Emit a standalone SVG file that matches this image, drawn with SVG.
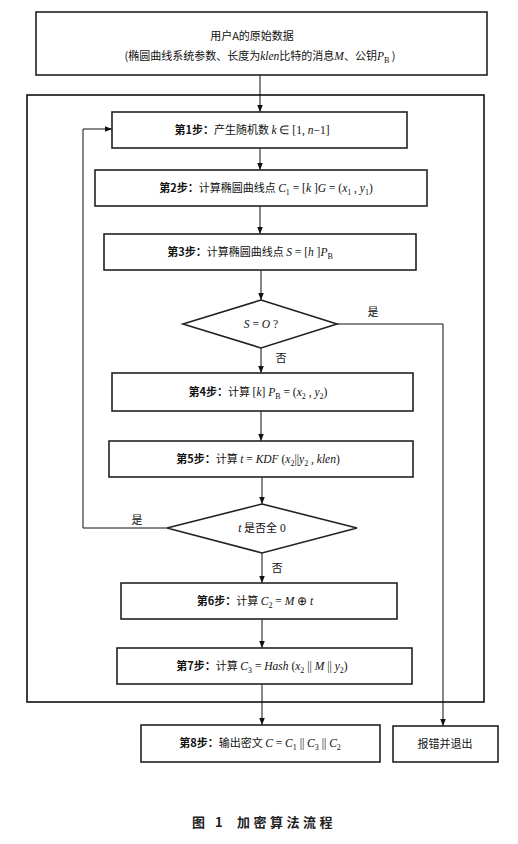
<svg xmlns="http://www.w3.org/2000/svg" width="518" height="844" viewBox="0 0 518 844">
<style>
.box{fill:#fff;stroke:#222;stroke-width:1.6}
.outer{fill:none;stroke:#111;stroke-width:1.6}
.ln{fill:none;stroke:#111;stroke-width:1}
.t{font-family:"Noto Sans CJK SC","Liberation Serif",serif;font-size:11px;fill:#111;text-anchor:middle}
.b{font-weight:bold}
.m{font-family:"Liberation Serif",serif;font-style:italic;font-size:11.5px}
.r{font-family:"Liberation Serif",serif;font-size:11.5px}
.s{font-size:8px}
.cap{font-family:"Noto Sans CJK SC",sans-serif;font-size:13px;font-weight:bold;fill:#222;letter-spacing:3.5px}
</style>
<defs>
<marker id="ar" viewBox="0 0 10 10" refX="10" refY="5" markerWidth="7" markerHeight="7" orient="auto" markerUnits="userSpaceOnUse">
<path d="M0,1 L10,5 L0,9 Z" fill="#111"/>
</marker>
</defs>
<rect class="outer" x="27" y="95" width="457" height="607"/>
<g id="connectors">
<path class="ln" d="M260,75 V112" marker-end="url(#ar)"/>
<path class="ln" d="M260,148 V170" marker-end="url(#ar)"/>
<path class="ln" d="M260,206 V234" marker-end="url(#ar)"/>
<path class="ln" d="M261,270 V300" marker-end="url(#ar)"/>
<path class="ln" d="M261,348 V373" marker-end="url(#ar)"/>
<path class="ln" d="M337,324 H443 V726" marker-end="url(#ar)"/>
<path class="ln" d="M261,411 V441" marker-end="url(#ar)"/>
<path class="ln" d="M262,477 V504" marker-end="url(#ar)"/>
<path class="ln" d="M167,528 H83 V129 H112" marker-end="url(#ar)"/>
<path class="ln" d="M262,553 V583" marker-end="url(#ar)"/>
<path class="ln" d="M262,619 V648" marker-end="url(#ar)"/>
<path class="ln" d="M262,684 V725" marker-end="url(#ar)"/>
<text class="t" x="373" y="316">是</text>
<text class="t" x="281" y="362">否</text>
<text class="t" x="137" y="524">是</text>
<text class="t" x="277" y="572">否</text>
</g>
<g id="n0">
<rect class="box" x="36" y="12" width="451" height="63"/>
<text class="t" x="252" y="40">用户A的原始数据</text>
<text class="t" x="260" y="60">(椭圆曲线系统参数、长度为<tspan class="m">klen</tspan>比特的消息<tspan class="m">M</tspan>、公钥<tspan class="m">P</tspan><tspan class="r s" dy="3">B</tspan><tspan dy="-3"> )</tspan></text>
</g>
<g id="n1">
<rect class="box" x="112" y="112" width="295" height="36"/>
<text class="t" x="252" y="134"><tspan class="b">第1步：</tspan>产生随机数 <tspan class="m">k</tspan><tspan class="r"> ∈ [1, </tspan><tspan class="m">n</tspan><tspan class="r">−1]</tspan></text>
</g>
<g id="n2">
<rect class="box" x="95" y="170" width="332" height="36"/>
<text class="t" x="266" y="192"><tspan class="b">第2步：</tspan>计算椭圆曲线点 <tspan class="m">C</tspan><tspan class="r s" dy="3">1</tspan><tspan class="r" dy="-3"> = [</tspan><tspan class="m">k</tspan><tspan class="r"> ]</tspan><tspan class="m">G</tspan><tspan class="r"> = (</tspan><tspan class="m">x</tspan><tspan class="r s" dy="3">1</tspan><tspan class="r" dy="-3"> , </tspan><tspan class="m">y</tspan><tspan class="r s" dy="3">1</tspan><tspan class="r" dy="-3">)</tspan></text>
</g>
<g id="n3">
<rect class="box" x="104" y="234" width="312" height="36"/>
<text class="t" x="250" y="256"><tspan class="b">第3步：</tspan>计算椭圆曲线点 <tspan class="m">S</tspan><tspan class="r"> = [</tspan><tspan class="m">h</tspan><tspan class="r"> ]</tspan><tspan class="m">P</tspan><tspan class="r s" dy="3">B</tspan></text>
</g>
<g id="d1">
<polygon class="box" points="261,300 337,324 261,348 183,324"/>
<text class="t" x="261" y="328"><tspan class="m">S</tspan><tspan class="r"> = </tspan><tspan class="m">O</tspan><tspan class="r"> ?</tspan></text>
</g>
<g id="n4">
<rect class="box" x="112" y="373" width="301" height="38"/>
<text class="t" x="258" y="396"><tspan class="b">第4步：</tspan>计算 <tspan class="r">[</tspan><tspan class="m">k</tspan><tspan class="r">] </tspan><tspan class="m">P</tspan><tspan class="r s" dy="3">B</tspan><tspan class="r" dy="-3"> = (</tspan><tspan class="m">x</tspan><tspan class="r s" dy="3">2</tspan><tspan class="r" dy="-3"> , </tspan><tspan class="m">y</tspan><tspan class="r s" dy="3">2</tspan><tspan class="r" dy="-3">)</tspan></text>
</g>
<g id="n5">
<rect class="box" x="109" y="441" width="304" height="36"/>
<text class="t" x="258" y="463"><tspan class="b">第5步：</tspan>计算 <tspan class="m">t</tspan><tspan class="r"> = </tspan><tspan class="m">KDF</tspan><tspan class="r"> (</tspan><tspan class="m">x</tspan><tspan class="r s" dy="3">2</tspan><tspan class="r" dy="-3">||</tspan><tspan class="m">y</tspan><tspan class="r s" dy="3">2</tspan><tspan class="r" dy="-3"> , </tspan><tspan class="m">klen</tspan><tspan class="r">)</tspan></text>
</g>
<g id="d2">
<polygon class="box" points="262,504 357,528 262,553 167,528"/>
<text class="t" x="262" y="532"><tspan class="m">t</tspan> 是否全<tspan class="r"> 0</tspan></text>
</g>
<g id="n6">
<rect class="box" x="121" y="583" width="276" height="36"/>
<text class="t" x="255" y="605"><tspan class="b">第6步：</tspan>计算 <tspan class="m">C</tspan><tspan class="r s" dy="3">2</tspan><tspan class="r" dy="-3"> = </tspan><tspan class="m">M</tspan><tspan class="r"> ⊕ </tspan><tspan class="m">t</tspan></text>
</g>
<g id="n7">
<rect class="box" x="117" y="648" width="295" height="36"/>
<text class="t" x="262" y="670"><tspan class="b">第7步：</tspan>计算 <tspan class="m">C</tspan><tspan class="r s" dy="3">3</tspan><tspan class="r" dy="-3"> = </tspan><tspan class="m">Hash</tspan><tspan class="r"> (</tspan><tspan class="m">x</tspan><tspan class="r s" dy="3">2</tspan><tspan class="r" dy="-3"> || </tspan><tspan class="m">M</tspan><tspan class="r">  || </tspan><tspan class="m">y</tspan><tspan class="r s" dy="3">2</tspan><tspan class="r" dy="-3">)</tspan></text>
</g>
<g id="n8">
<rect class="box" x="141" y="725" width="239" height="37"/>
<text class="t" x="260" y="747"><tspan class="b">第8步：</tspan>输出密文 <tspan class="m">C</tspan><tspan class="r"> = </tspan><tspan class="m">C</tspan><tspan class="r s" dy="3">1</tspan><tspan class="r" dy="-3"> || </tspan><tspan class="m">C</tspan><tspan class="r s" dy="3">3</tspan><tspan class="r" dy="-3"> || </tspan><tspan class="m">C</tspan><tspan class="r s" dy="3">2</tspan></text>
</g>
<g id="n9">
<rect class="box" x="393" y="726" width="105" height="36"/>
<text class="t" x="445" y="748">报错并退出</text>
</g>
<text class="cap" y="827"><tspan x="192">图 1</tspan><tspan x="237">加密算法流程</tspan></text>
</svg>
